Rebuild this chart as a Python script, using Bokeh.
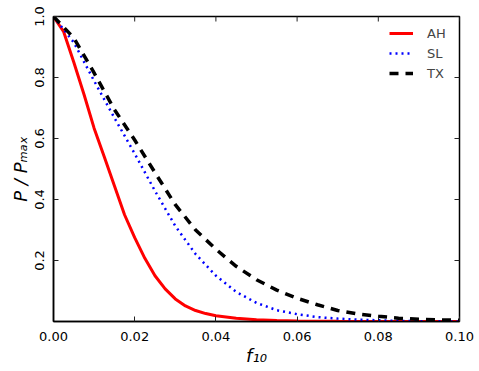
import math
from bokeh.plotting import figure
from bokeh.models import Range1d, FixedTicker, Legend, PrintfTickFormatter
from bokeh.embed import file_html
from bokeh.resources import INLINE

# ---- data ----
f_ah = [0.0, 0.0025, 0.005, 0.0075, 0.010, 0.0125, 0.015, 0.0175, 0.020, 0.0225,
        0.025, 0.0275, 0.030, 0.0325, 0.035, 0.0375, 0.040, 0.045, 0.050, 0.055,
        0.060, 0.065, 0.070, 0.080, 0.090, 0.100]
ah = [1.0, 0.95, 0.85, 0.745, 0.634, 0.54, 0.445, 0.35, 0.275, 0.207,
      0.150, 0.107, 0.074, 0.051, 0.036, 0.026, 0.019, 0.011, 0.006, 0.003,
      0.0015, 0.001, 0.0005, 0.0002, 0.0, 0.0]
f_10 = [0.000, 0.005, 0.010, 0.015, 0.020, 0.025, 0.030, 0.035, 0.040, 0.045,
        0.050, 0.055, 0.060, 0.065, 0.070, 0.075, 0.080, 0.085, 0.090, 0.095, 0.100]
sl = [1.0, 0.915, 0.789, 0.668, 0.55, 0.428, 0.313, 0.221, 0.150, 0.097,
      0.061, 0.037, 0.024, 0.0144, 0.0095, 0.006, 0.004, 0.002, 0.001, 0.0005, 0.0]
tx = [1.0, 0.93, 0.815, 0.695, 0.595, 0.488, 0.383, 0.30, 0.237, 0.181,
      0.137, 0.103, 0.076, 0.055, 0.036, 0.0245, 0.017, 0.011, 0.0075, 0.0055, 0.004]
series_names = ["AH", "SL", "TX"]
x_ticks = [0.0, 0.02, 0.04, 0.06, 0.08, 0.10]
y_ticks = [0.2, 0.4, 0.6, 0.8, 1.0]
x_label = "f\u2081\u2080"
y_label = "P / P\u2098\u2090\u2093"

FONT = "DejaVu Sans"
X_MIN, X_MAX = 0.0, 0.1
Y_MIN, Y_MAX = 0.0, 1.0

p = figure(width=479, height=371, x_range=Range1d(X_MIN, X_MAX), y_range=Range1d(Y_MIN, Y_MAX),
           output_backend="svg", toolbar_location=None, min_border=0)
p.min_border_left = 53
p.min_border_right = 20
p.min_border_top = 16
p.min_border_bottom = 50
p.background_fill_color = "white"
p.border_fill_color = "white"
p.outline_line_color = "black"
p.outline_line_width = 1.5
p.outline_line_alpha = 1.0
p.xgrid.grid_line_color = None
p.ygrid.grid_line_color = None

def style_axis(ax, ticks, fmt):
    ax.ticker = FixedTicker(ticks=ticks)
    ax.formatter = PrintfTickFormatter(format=fmt)
    ax.major_tick_in = 5
    ax.major_tick_out = 0
    ax.minor_tick_line_color = None
    ax.major_tick_line_color = "#222222"
    ax.major_tick_line_width = 1
    ax.axis_line_color = "black"
    ax.axis_line_width = 1.5
    ax.major_label_text_font = FONT
    ax.major_label_text_color = "black"
    ax.major_label_text_font_size = "13px"
    ax.axis_label_text_font = FONT
    ax.axis_label_text_font_size = "18px"
    ax.axis_label_text_font_style = "italic"
    ax.axis_label_text_color = "black"
    ax.axis_label_standoff = 1

xa = p.xaxis[0]
style_axis(xa, x_ticks, "%.2f")
xa.major_label_standoff = 10
xa.axis_label = x_label
ya = p.yaxis[0]
style_axis(ya, y_ticks, "%.1f")
ya.major_label_orientation = "vertical"
ya.major_label_standoff = 10
ya.axis_label = y_label

# inward tick marks on the top and right edges (half of each dash is clipped by the frame)
p.scatter(x_ticks, [Y_MAX] * len(x_ticks), marker="dash", size=10, angle=math.pi / 2,
          line_color="#222222", line_width=1)
p.scatter([X_MAX] * len(y_ticks), y_ticks, marker="dash", size=10,
          line_color="#222222", line_width=1)

r_ah = p.line(f_ah, ah, line_color="red", line_width=3)
r_sl = p.line(f_10, sl, line_color="blue", line_width=2.5, line_dash="2 4")
r_tx = p.line(f_10, tx, line_color="black", line_width=3.5, line_dash="9 7")

legend = Legend(items=[(series_names[0], [r_ah]), (series_names[1], [r_sl]), (series_names[2], [r_tx])],
                location="top_right", border_line_color=None, background_fill_alpha=0,
                label_text_font_size="13px", label_text_font=FONT,
                glyph_width=24, glyph_height=16, label_height=16, label_width=23,
                label_standoff=14, spacing=4, margin=9, padding=0)
p.add_layout(legend)

open("out.html", "w").write(file_html(p, INLINE))
